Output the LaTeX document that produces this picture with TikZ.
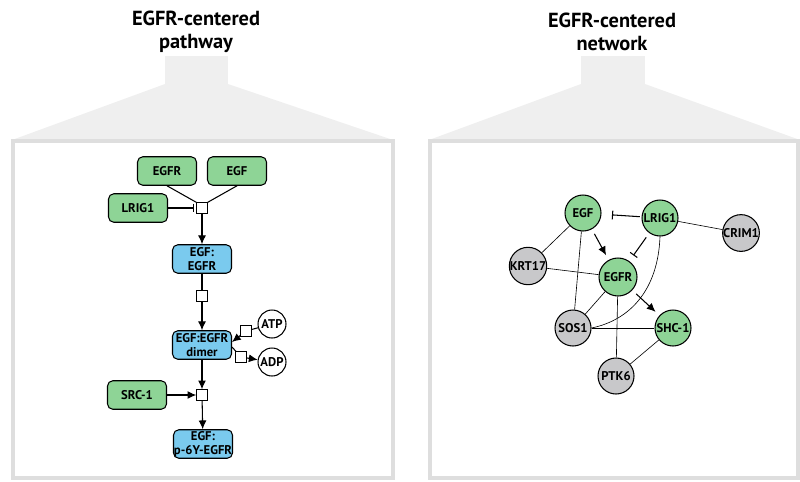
\documentclass[tikz,border=0pt]{standalone}
\usepackage{fontspec}
\setmainfont{PT Sans}
\usetikzlibrary{arrows.meta}

\definecolor{molgreen}{RGB}{142,212,150}
\definecolor{molblue}{RGB}{122,202,238}
\definecolor{molgray}{RGB}{200,200,202}
\definecolor{fangray}{RGB}{239,239,239}
\definecolor{framegray}{RGB}{222,222,222}

\begin{document}
\begin{tikzpicture}[x=0.02cm, y=-0.02cm,
    label text/.style={font=\fontsize{7.2}{7.8}\selectfont\bfseries, align=center, inner sep=0pt},
    species/.style={label text, draw, line width=0.6pt, rounded corners=3pt,
      minimum width=1.18cm, minimum height=0.57cm},
    green species/.style={species, fill=molgreen},
    blue species/.style={species, fill=molblue},
    process/.style={draw, fill=white, line width=0.5pt, minimum size=0.21cm, inner sep=0pt},
    small mol/.style={label text, draw, circle, fill=white, line width=0.6pt, minimum size=0.56cm},
    protein/.style={label text, draw, circle, line width=0.6pt, minimum size=0.72cm},
    green protein/.style={protein, fill=molgreen},
    gray protein/.style={protein, fill=molgray},
    title/.style={font=\fontsize{11.6}{13.2}\selectfont\bfseries, align=center},
    flow/.style={line width=0.6pt, -{Latex[length=5pt,width=4.5pt]}},
    inhibit/.style={line width=0.6pt, -{Bar[width=5pt]}},
    link/.style={line width=0.35pt}]
  \useasboundingbox (0,0) rectangle (800,481);

  % panels
  \node[title] (pathtitle) at (196,32) {EGFR-centered\\pathway};
  \fill[fangray] (165,56) rectangle (228,84);
  \fill[fangray] (165,84) -- (228,84) -- (393,140) -- (12,140) -- cycle;
  \draw[framegray, line width=2.5pt, fill=white] (13,141) rectangle (393,478);

  \node[title] (nettitle) at (612,32) {EGFR-centered\\network};
  \fill[fangray] (581,56) rectangle (645,84);
  \fill[fangray] (581,84) -- (645,84) -- (800,140) -- (429,140) -- cycle;
  \draw[framegray, line width=2.5pt, fill=white] (430,141) rectangle (798,478);

  % pathway
  \node[green species] (egfr) at (167,171) {EGFR};
  \node[green species] (egf) at (237,171) {EGF};
  \node[green species] (lrig) at (138,208) {LRIG1};
  \node[process] (bind) at (202,208) {};
  \node[blue species] (complex) at (202,259) {EGF:\\EGFR};
  \node[process] (dimerize) at (202,296) {};
  \node[blue species] (dimer) at (202,345) {EGF:EGFR\\dimer};
  \node[small mol] (atp) at (272,324) {ATP};
  \node[small mol] (adp) at (272,362) {ADP};
  \node[process] (atpin) at (246,331) {};
  \node[process] (adpout) at (241,357) {};
  \node[green species] (src) at (137,395) {SRC-1};
  \node[process] (phos) at (202,395) {};
  \node[blue species] (phosegfr) at (203,444) {EGF:\\p-6Y-EGFR};
  \coordinate (dimerin) at (232,342);
  \coordinate (dimerout) at (232,347);

  \draw[line width=0.6pt] (egfr.south) -- (bind.north west);
  \draw[line width=0.6pt] (egf.south) -- (bind.north east);
  \draw[inhibit, shorten >=1.5pt] (lrig) -- (bind);
  \draw[flow] (bind) -- (complex);
  \draw[line width=0.6pt] (complex) -- (dimerize);
  \draw[flow] (dimerize) -- (dimer);
  \draw[line width=0.6pt] (atp) -- (atpin);
  \draw[flow] (atpin) -- (dimerin);
  \draw[line width=0.6pt] (dimerout) -- (adpout);
  \draw[flow] (adpout) -- (adp);
  \draw[flow] (dimer) -- (phos);
  \draw[flow] (src) -- (phos);
  \draw[flow] (phos) -- (phosegfr);

  % network
  \node[green protein] (negf) at (583,213) {EGF};
  \node[green protein] (nlrig) at (660,218) {LRIG1};
  \node[gray protein] (crim) at (741,233) {CRIM1};
  \node[gray protein] (krt) at (528,266) {KRT17};
  \node[green protein, minimum size=0.76cm] (negfr) at (618,277) {EGFR};
  \node[gray protein] (sos) at (573,328) {SOS1};
  \node[green protein] (shc) at (673,328) {SHC-1};
  \node[gray protein] (ptk) at (616,376) {PTK6};

  \draw[link] (nlrig) -- (crim);
  \draw[link] (negf) -- (krt);
  \draw[link] (negf) -- (sos);
  \draw[link] (krt) -- (negfr);
  \draw[link] (negfr) -- (sos);
  \draw[link] (negfr) -- (ptk);
  \draw[link] (sos) -- (shc);
  \draw[link] (shc) -- (ptk);
  \draw[link] (nlrig.south) .. controls (658,290) and (630,320) .. (sos.east);
  \draw[inhibit, shorten >=6pt, shorten <=1pt] (nlrig) -- (negf);
  \draw[inhibit, shorten >=4pt, shorten <=3pt] (nlrig) -- (negfr);
  \draw[flow, shorten >=3pt, shorten <=3pt] (negf) -- (negfr);
  \draw[flow, shorten >=3pt, shorten <=3pt] (negfr) -- (shc);
\end{tikzpicture}
\end{document}
